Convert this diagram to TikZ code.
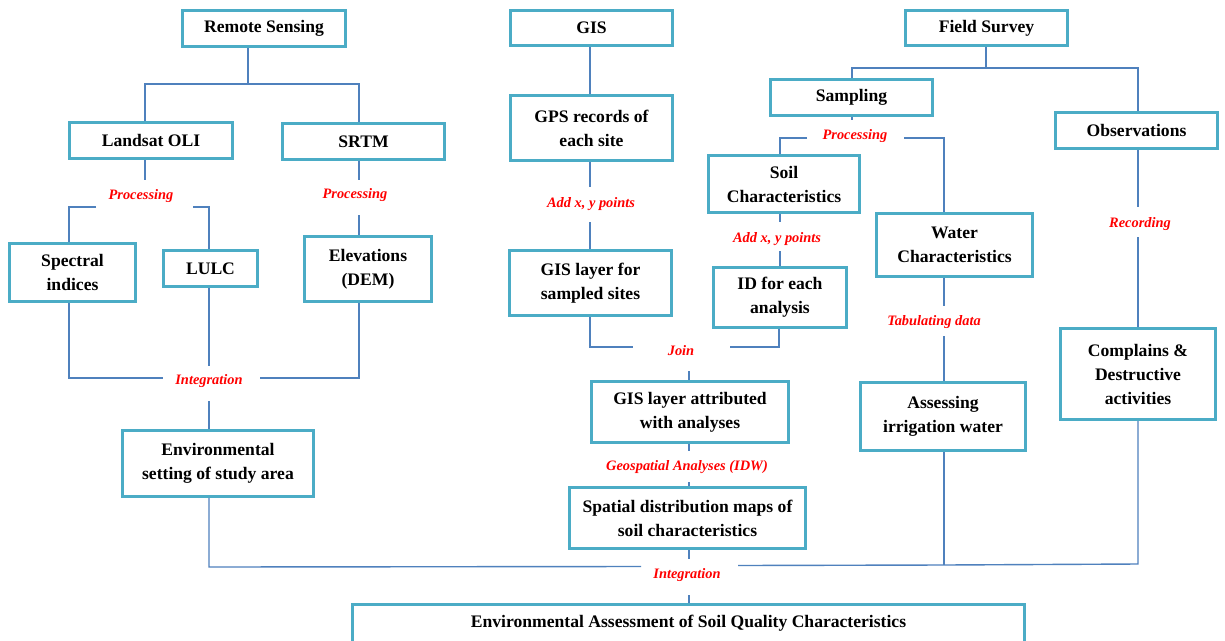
\documentclass[tikz,border=0pt]{standalone}
\usepackage{fontspec}
\setmainfont{Liberation Serif}
\definecolor{boxc}{RGB}{75,172,198}
\definecolor{linec}{RGB}{79,129,189}
\definecolor{labc}{RGB}{255,0,0}
\tikzset{
  box/.style={draw=boxc, line width=3pt, fill=white, align=center, inner sep=2pt,
    font=\bfseries\fontsize{17.6}{24}\selectfont, text=black},
  conn/.style={draw=linec, line width=1.4pt},
  lab/.style={text=labc, font=\bfseries\itshape\fontsize{14.4}{17}\selectfont, inner sep=1pt}
}
\begin{document}
\begin{tikzpicture}[x=1pt,y=-1pt]
\clip (0,0) rectangle (1225,640);
\fill[white] (0,0) rectangle (1225,640);
% boxes
\node[box, minimum width=163, minimum height=36] (rs) at (264,28.5) {Remote Sensing};
\node[box, minimum width=162, minimum height=35] (gis) at (591.5,28) {GIS};
\node[box, minimum width=162, minimum height=35] (fs) at (986.5,28) {Field Survey};
\node[box, minimum width=163, minimum height=36] (landsat) at (151,140.5) {Landsat OLI};
\node[box, minimum width=162, minimum height=36] (srtm) at (363.5,141.5) {SRTM};
\node[box, minimum width=126, minimum height=58] (spec) at (72.5,272.5) {Spectral\\indices};
\node[box, minimum width=94, minimum height=36] (lulc) at (210.5,268.5) {LULC};
\node[box, minimum width=127, minimum height=65] (elev) at (368,269) {Elevations\\(DEM)};
\node[box, minimum width=162, minimum height=65] (gps) at (591.5,128) {GPS records of\\each site};
\node[box, minimum width=162, minimum height=65] (gisl) at (590.5,283) {GIS layer for\\sampled sites};
\node[box, minimum width=162, minimum height=36] (samp) at (851.5,97.5) {Sampling};
\node[box, minimum width=151, minimum height=57] (soil) at (784,184) {Soil\\Characteristics};
\node[box, minimum width=133, minimum height=60] (id) at (780,297.5) {ID for each\\analysis};
\node[box, minimum width=156, minimum height=63] (water) at (954.5,245) {Water\\Characteristics};
\node[box, minimum width=162, minimum height=36] (obs) at (1136.5,130.5) {Observations};
\node[box, minimum width=155, minimum height=91] (compl) at (1138,374) {Complains \&\\Destructive\\activities};
\node[box, minimum width=165, minimum height=68] (assess) at (943,416.5) {Assessing\\irrigation water};
\node[box, minimum width=191, minimum height=66] (envset) at (218,463.5) {Environmental\\setting of study area};
\node[box, minimum width=197, minimum height=61] (gisatt) at (690,412) {GIS layer attributed\\with analyses};
\node[box, minimum width=236, minimum height=61] (spat) at (687.5,518) {Spatial distribution maps of\\soil characteristics};
\node[box, minimum width=672, minimum height=38] (envass) at (688.5,623) {Environmental Assessment of Soil Quality Characteristics};
% labels
\node[lab] (p1) at (141,196) {Processing};
\node[lab] (p2) at (355,195) {Processing};
\node[lab] (i1) at (209,381) {Integration};
\node[lab] (ax1) at (591,204) {Add x, y points};
\node[lab] (join) at (681,351) {Join};
\node[lab] (geo) at (687,467) {Geospatial Analyses (IDW)};
\node[lab] (i2) at (687,575) {Integration};
\node[lab] (p3) at (855,136) {Processing};
\node[lab] (ax2) at (777,239) {Add x, y points};
\node[lab] (tab) at (934,322) {Tabulating data};
\node[lab] (rec) at (1140,224) {Recording};
% free-end coordinates
\coordinate (rsj) at (248,84);
\coordinate (rsl) at (145,84);
\coordinate (rsr) at (359,84);
\coordinate (p1a) at (145,180);
\coordinate (p1l) at (96,207);
\coordinate (p1lc) at (69,207);
\coordinate (p1r) at (193,207);
\coordinate (p1rc) at (209,207);
\coordinate (p2a) at (359,180);
\coordinate (p2b) at (359,215);
\coordinate (i1lc) at (69,378);
\coordinate (i1l) at (163,378);
\coordinate (i1r) at (260,378);
\coordinate (i1rc) at (359,378);
\coordinate (i1a) at (209,366);
\coordinate (i1b) at (209,401);
\coordinate (i2lc) at (209,567);
\coordinate (i2l) at (641,566.5);
\coordinate (i2r) at (738,565.5);
\coordinate (i2w) at (944,565);
\coordinate (i2rc) at (1138,564);
\coordinate (i2a) at (689,559);
\coordinate (i2b) at (689,595);
\coordinate (ax1a) at (590,187);
\coordinate (ax1b) at (590,222);
\coordinate (jlc) at (590,347);
\coordinate (jl) at (633,347);
\coordinate (jr) at (730,347);
\coordinate (jrc) at (779,347);
\coordinate (jb) at (689,371);
\coordinate (geoa) at (689,451);
\coordinate (geob) at (689,482);
\coordinate (fsj) at (986,68);
\coordinate (fsl) at (852,68);
\coordinate (fsr) at (1138,68);
\coordinate (p3a) at (852,120);
\coordinate (p3l) at (807,138);
\coordinate (p3lc) at (780,138);
\coordinate (p3r) at (904,138);
\coordinate (p3rc) at (944,138);
\coordinate (ax2a) at (780,222);
\coordinate (ax2b) at (780,251);
\coordinate (taba) at (944,306);
\coordinate (tabb) at (944,336);
\coordinate (reca) at (1138,207);
\coordinate (recb) at (1138,237);
% connectors
\draw[conn] (rs.south -| rsj) -- (rsj);
\draw[conn] (landsat.north -| rsl) -- (rsl) -- (rsr) -- (srtm.north -| rsr);
\draw[conn] (landsat.south -| p1a) -- (p1a);
\draw[conn] (p1l) -- (p1lc) -- (spec.north -| p1lc);
\draw[conn] (p1r) -- (p1rc) -- (lulc.north -| p1rc);
\draw[conn] (srtm.south -| p2a) -- (p2a);
\draw[conn] (p2b) -- (elev.north -| p2b);
\draw[conn] (spec.south -| i1lc) -- (i1lc) -- (i1l);
\draw[conn] (i1r) -- (i1rc) -- (elev.south -| i1rc);
\draw[conn] (lulc.south -| i1a) -- (i1a);
\draw[conn] (i1b) -- (envset.north -| i1b);
\draw[conn] (envset.south -| i2lc) -- (i2lc) -- (i2l);
\draw[conn] (i2r) -- (i2w) -- (i2rc) -- (compl.south -| i2rc);
\draw[conn] (assess.south -| i2w) -- (i2w);
\draw[conn] (spat.south -| i2a) -- (i2a);
\draw[conn] (i2b) -- (envass.north -| i2b);
\draw[conn] (gis.south -| ax1a) -- (gps.north -| ax1a);
\draw[conn] (gps.south -| ax1a) -- (ax1a);
\draw[conn] (ax1b) -- (gisl.north -| ax1b);
\draw[conn] (gisl.south -| jlc) -- (jlc) -- (jl);
\draw[conn] (jr) -- (jrc) -- (id.south -| jrc);
\draw[conn] (jb) -- (gisatt.north -| jb);
\draw[conn] (gisatt.south -| geoa) -- (geoa);
\draw[conn] (geob) -- (spat.north -| geob);
\draw[conn] (fs.south -| fsj) -- (fsj);
\draw[conn] (samp.north -| fsl) -- (fsl) -- (fsr) -- (obs.north -| fsr);
\draw[conn] (samp.south -| p3a) -- (p3a);
\draw[conn] (p3l) -- (p3lc) -- (soil.north -| p3lc);
\draw[conn] (p3r) -- (p3rc) -- (water.north -| p3rc);
\draw[conn] (soil.south -| ax2a) -- (ax2a);
\draw[conn] (ax2b) -- (id.north -| ax2b);
\draw[conn] (water.south -| taba) -- (taba);
\draw[conn] (tabb) -- (assess.north -| tabb);
\draw[conn] (obs.south -| reca) -- (reca);
\draw[conn] (recb) -- (compl.north -| recb);
\end{tikzpicture}
\end{document}
